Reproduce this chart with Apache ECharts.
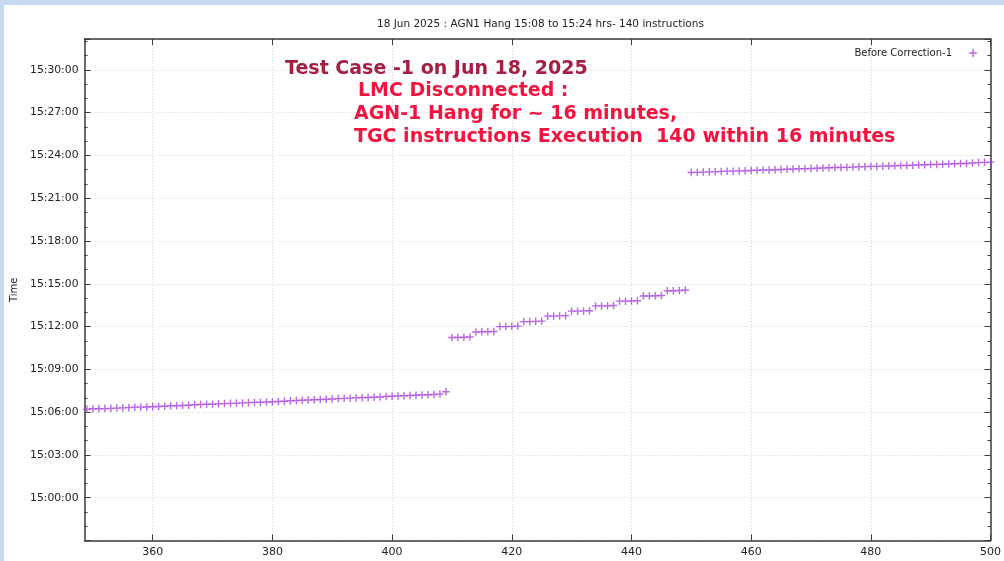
<!DOCTYPE html>
<html>
<head>
<meta charset="utf-8">
<script src="https://cdn.jsdelivr.net/npm/echarts@6/dist/echarts.min.js"></script>
<style>
html,body{margin:0;padding:0;background:#fff;}
#c{width:1004px;height:561px;}
</style>
</head>
<body>
<div id="c"></div>
<script>
// ---- data ----
const titleText = '18 Jun 2025 : AGN1 Hang 15:08 to 15:24 hrs- 140 instructions';
const seriesName = 'Before Correction-1';
const xTicks = [360, 380, 400, 420, 440, 460, 480, 500];
const annotLines = [
  'Test Case -1 on Jun 18, 2025',
  'LMC Disconnected :',
  'AGN-1 Hang for ~ 16 minutes,',
  'TGC instructions Execution  140 within 16 minutes'
];
// instruction numbers where each segment starts
const seg1Start = 349;
const seg2Start = 410;
const seg3Start = 450;
const seg1Times = [
  '15:06:12','15:06:14','15:06:14','15:06:15','15:06:16','15:06:17','15:06:18','15:06:19','15:06:21','15:06:21',
  '15:06:22','15:06:23','15:06:24','15:06:25','15:06:27','15:06:27','15:06:28','15:06:29','15:06:31','15:06:32',
  '15:06:33','15:06:33','15:06:35','15:06:36','15:06:37','15:06:38','15:06:39','15:06:40','15:06:41','15:06:42',
  '15:06:43','15:06:44','15:06:45','15:06:46','15:06:48','15:06:49','15:06:50','15:06:51','15:06:52','15:06:53',
  '15:06:54','15:06:55','15:06:57','15:06:58','15:06:59','15:07:00','15:07:01','15:07:02','15:07:03','15:07:04',
  '15:07:06','15:07:07','15:07:08','15:07:09','15:07:10','15:07:11','15:07:12','15:07:13','15:07:14','15:07:16',
  '15:07:26'
];
const seg2Times = [
  '15:11:14','15:11:14','15:11:15','15:11:16',
  '15:11:37','15:11:38','15:11:38','15:11:39',
  '15:12:00','15:12:00','15:12:01','15:12:02',
  '15:12:21','15:12:21','15:12:22','15:12:23',
  '15:12:44','15:12:44','15:12:45','15:12:46',
  '15:13:05','15:13:05','15:13:06','15:13:07',
  '15:13:27','15:13:27','15:13:28','15:13:29',
  '15:13:47','15:13:47','15:13:48','15:13:49',
  '15:14:09','15:14:09','15:14:10','15:14:11',
  '15:14:31','15:14:31','15:14:32','15:14:34'
];
const seg3Times = [
  '15:22:48','15:22:49','15:22:50','15:22:51','15:22:51','15:22:53','15:22:54','15:22:54','15:22:55','15:22:56',
  '15:22:57','15:22:58','15:22:59','15:22:59','15:23:00','15:23:01','15:23:02','15:23:03','15:23:04','15:23:04',
  '15:23:05','15:23:06','15:23:07','15:23:08','15:23:09','15:23:09','15:23:10','15:23:11','15:23:12','15:23:13',
  '15:23:14','15:23:14','15:23:15','15:23:16','15:23:17','15:23:18','15:23:18','15:23:19','15:23:20','15:23:21',
  '15:23:22','15:23:22','15:23:23','15:23:24','15:23:25','15:23:26','15:23:26','15:23:28','15:23:30','15:23:31',
  '15:23:32'
];

// ---- build ----
function toSec(s){ const p = s.split(':').map(Number); return p[0]*3600 + p[1]*60 + p[2]; }
function fmt(v){
  v = Math.round(v);
  const h = Math.floor(v/3600), m = Math.floor((v%3600)/60), s = v%60;
  const z = n => (n<10?'0':'')+n;
  return z(h)+':'+z(m)+':'+z(s);
}
const points = [];
[[seg1Start, seg1Times],[seg2Start, seg2Times],[seg3Start, seg3Times]].forEach(([st, arr]) => {
  arr.forEach((t, i) => points.push([st + i, toSec(t)]));
});

const plus = 'path://M3,0h1.4v3h3v1.4h-3v3h-1.4v-3h-3v-1.4h3z';
const FONT = '"DejaVu Sans", sans-serif';
const ANN_FONT = '"DejaVu Sans", sans-serif';
const axisColor = '#3a3a3a';
const gridLine = { show: true, lineStyle: { color: '#d2d2d2', type: [1, 2], width: 1 } };

const chart = echarts.init(document.getElementById('c'), null, { renderer: 'canvas' });
chart.setOption({
  backgroundColor: '#c6d9f1',
  animation: false,
  title: {
    text: titleText,
    left: 372, top: 14,
    textStyle: { fontFamily: FONT, fontSize: 10.5, fontWeight: 'normal', color: '#222' }
  },
  legend: {
    right: 22, top: 43,
    align: 'right',
    itemWidth: 8, itemHeight: 8,
    itemGap: 0,
    data: [{ name: seriesName, icon: plus }],
    textStyle: { fontFamily: FONT, fontSize: 10, color: '#222', padding: [0, 12, 0, 0] }
  },
  grid: { left: 84.5, right: 8, top: 39, bottom: 20.5, containLabel: false, show: false },
  graphic: [
    { type: 'rect', z: -10, left: 4, top: 5, shape: { width: 1000, height: 556 }, style: { fill: '#ffffff' } },
    { type: 'text', x: 285, y: 69, z: 50, style: { text: annotLines[0], font: 'bold 19px ' + ANN_FONT, fill: '#a51f42', verticalAlign: 'middle' } },
    { type: 'text', x: 358, y: 91, z: 50, style: { text: annotLines[1], font: 'bold 19px ' + ANN_FONT, fill: '#f0143f', verticalAlign: 'middle' } },
    { type: 'text', x: 354, y: 114, z: 50, style: { text: annotLines[2], font: 'bold 19px ' + ANN_FONT, fill: '#f0143f', verticalAlign: 'middle' } },
    { type: 'text', x: 354, y: 137, z: 50, style: { text: annotLines[3], font: 'bold 19px ' + ANN_FONT, fill: '#f0143f', verticalAlign: 'middle' } }
  ],
  xAxis: [
    {
      type: 'value', position: 'bottom', min: 348.6, max: 500,
      axisLine: { show: true, onZero: false, lineStyle: { color: axisColor, width: 1.5 } },
      axisTick: { show: true, inside: true, length: 6, customValues: xTicks, lineStyle: { color: axisColor } },
      axisLabel: { customValues: xTicks, margin: 6, fontFamily: FONT, fontSize: 11, color: '#222' },
      splitLine: gridLine
    },
    {
      type: 'value', position: 'top', min: 348.6, max: 500,
      axisLine: { show: true, onZero: false, lineStyle: { color: axisColor, width: 1.5 } },
      axisTick: { show: true, inside: true, length: 6, customValues: xTicks, lineStyle: { color: axisColor } },
      axisLabel: { show: false, customValues: xTicks },
      splitLine: { show: false }
    }
  ],
  yAxis: [
    {
      type: 'value', position: 'left', min: toSec('14:57:00'), max: toSec('15:32:10'), interval: 180,
      name: 'Time', nameLocation: 'middle', nameGap: 58, nameRotate: 90,
      nameTextStyle: { fontFamily: FONT, fontSize: 10, color: '#222' },
      axisLine: { show: true, onZero: false, lineStyle: { color: axisColor, width: 1.5 } },
      axisTick: { show: true, inside: true, length: 6, lineStyle: { color: axisColor } },
      minorTick: { show: true, splitNumber: 3, length: 3, lineStyle: { color: axisColor } },
      axisLabel: { margin: 6, fontFamily: FONT, fontSize: 10.8, color: '#222', formatter: fmt, showMinLabel: false, showMaxLabel: false },
      splitLine: gridLine
    },
    {
      type: 'value', position: 'right', min: toSec('14:57:00'), max: toSec('15:32:10'), interval: 180,
      axisLine: { show: true, onZero: false, lineStyle: { color: axisColor, width: 1.5 } },
      axisTick: { show: true, inside: true, length: 6, lineStyle: { color: axisColor } },
      minorTick: { show: true, splitNumber: 3, length: 3, lineStyle: { color: axisColor } },
      axisLabel: { show: false },
      splitLine: { show: false }
    }
  ],
  series: [{
    name: seriesName,
    type: 'scatter',
    xAxisIndex: 0, yAxisIndex: 0,
    symbol: plus,
    symbolSize: 7.5,
    itemStyle: { color: '#a743e0' },
    data: points,
    clip: false
  }]
});
</script>
</body>
</html>
